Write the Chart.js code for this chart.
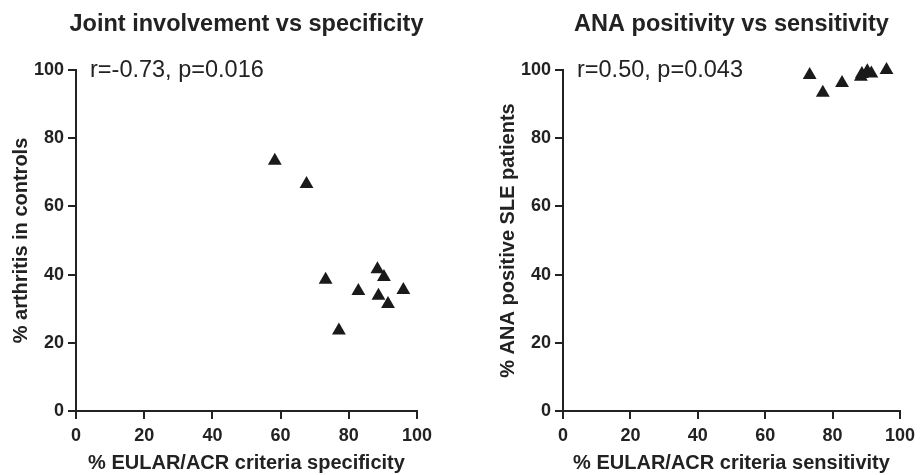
<!DOCTYPE html>
<html>
<head>
<meta charset="utf-8">
<script src="https://cdn.jsdelivr.net/npm/chart.js@4"></script>
<style>
  body { margin: 0; background: #fff; }
  #wrap { position: relative; width: 921px; height: 475px; }
  canvas { position: absolute; top: 0; }
</style>
</head>
<body>
<div id="wrap">
  <canvas id="left" width="460" height="475" style="left:0"></canvas>
  <canvas id="right" width="434" height="475" style="left:487px"></canvas>
</div>
<script>
// data
const specificity = [58.3, 67.6, 73.2, 77.1, 82.8, 88.4, 90.3, 88.7, 91.5, 96.0];
const arthritis = [73.4, 66.6, 38.5, 23.6, 35.2, 41.6, 39.3, 33.8, 31.4, 35.5];
const sensitivity = [73.2, 77.1, 82.8, 88.4, 88.7, 90.3, 91.5, 96.0];
const anaPositive = [98.5, 93.3, 96.2, 98.0, 98.8, 99.6, 99.0, 100];
const tickValues = [0, 20, 40, 60, 80, 100];

const ink = '#222';
const fam = '"Liberation Sans", Arial, sans-serif';

const toPoints = (xs, ys) => xs.map((x, i) => ({ x: x, y: ys[i] }));

// panel title + correlation note
const panelText = {
    id: 'panelText',
    afterDraw(chart, args, opts) {
        const ctx = chart.ctx;
        const area = chart.chartArea;
        ctx.save();
        ctx.fillStyle = ink;
        ctx.font = 'bold 23.5px ' + fam;
        ctx.textAlign = 'center';
        ctx.textBaseline = 'middle';
        ctx.fillText(opts.title, (area.left + area.right) / 2, 25);
        ctx.font = '23.5px ' + fam;
        ctx.textAlign = 'left';
        ctx.fillText(opts.note, area.left + 14, area.top + 1);
        ctx.restore();
    }
};

function axis(title, isX) {
    return {
        type: 'linear',
        min: 0,
        max: 100,
        afterBuildTicks: s => { s.ticks = tickValues.map(v => ({ value: v })); },
        afterFit: s => { if (isX) s.height = 64; else s.width = 76; },
        ticks: {
            color: ink,
            font: { family: fam, size: 18, weight: 'bold' },
            padding: isX ? 6 : 4
        },
        grid: {
            drawOnChartArea: false,
            drawTicks: true,
            tickLength: 8,
            color: ink,
            lineWidth: 2
        },
        border: { display: true, color: ink, width: 2 },
        title: {
            display: true,
            text: title,
            color: ink,
            font: { family: fam, size: 20, weight: 'bold' },
            padding: isX ? { top: 0, bottom: 0 } : { top: 9, bottom: 0 }
        }
    };
}

function makeChart(id, xs, ys, xTitle, yTitle, title, note, padRight) {
    return new Chart(document.getElementById(id), {
        type: 'scatter',
        data: {
            datasets: [{
                data: toPoints(xs, ys),
                pointStyle: 'triangle',
                pointRadius: 8,
                pointHoverRadius: 8,
                backgroundColor: '#1a1a1a',
                borderColor: '#1a1a1a',
                borderWidth: 0,
                clip: false
            }]
        },
        options: {
            responsive: false,
            animation: false,
            devicePixelRatio: 1,
            layout: { padding: { top: 70, right: padRight, left: 0, bottom: 0 } },
            scales: {
                x: axis(xTitle, true),
                y: axis(yTitle, false)
            },
            plugins: {
                legend: { display: false },
                tooltip: { enabled: false },
                panelText: { title: title, note: note }
            }
        },
        plugins: [panelText]
    });
}

makeChart('left', specificity, arthritis,
    '% EULAR/ACR criteria specificity', '% arthritis in controls',
    'Joint involvement vs specificity', 'r=-0.73, p=0.016', 43);

makeChart('right', sensitivity, anaPositive,
    '% EULAR/ACR criteria sensitivity', '% ANA positive SLE patients',
    'ANA positivity vs sensitivity', 'r=0.50, p=0.043', 16);
</script>
</body>
</html>
